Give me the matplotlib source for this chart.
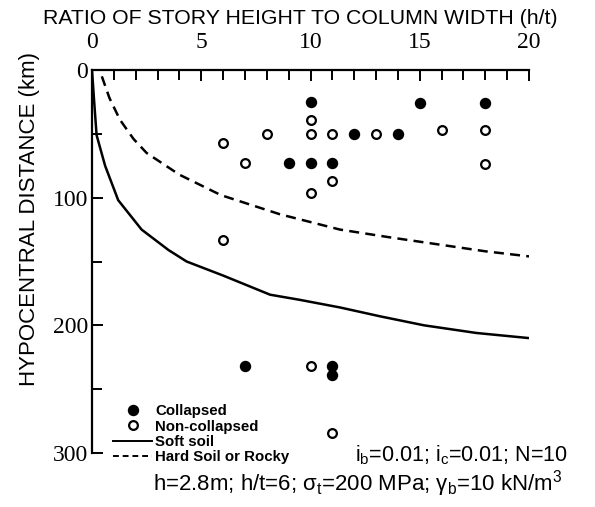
import matplotlib
matplotlib.use("Agg")
import matplotlib.pyplot as plt
from matplotlib.lines import Line2D
from matplotlib.ticker import MultipleLocator

# ---- data ----
collapsed_x = [10, 15, 18, 12, 14, 9, 10, 11, 7, 11, 11]
collapsed_y = [25, 26, 26, 50, 50, 73, 73, 73, 232, 232, 239]
noncollapsed_x = [10, 10, 11, 13, 8, 16, 18, 6, 7, 18, 11, 10, 6, 10, 11]
noncollapsed_y = [39, 50, 50, 50, 50, 47, 47, 57, 73, 74, 87, 96, 133, 232, 284]
soft_x = [0, 0.1, 0.21, 0.6, 1.2, 2.27, 3.5, 4.33, 6.0, 8.15, 9.5, 11.35, 13.2, 15.2, 17.6, 20]
soft_y = [0, 25, 51, 75, 102, 125, 141, 150, 161, 176, 180, 186, 193, 200, 206, 210]
hard_x = [0.45, 0.8, 1.28, 1.9, 2.5, 4.0, 5.9, 8.6, 11.35, 13.6, 16, 18, 20]
hard_y = [5, 22, 39, 54, 65, 82, 98, 113, 125, 131, 137, 142, 146]
xticks = [0, 5, 10, 15, 20]
yticks = [0, 100, 200, 300]

plt.rcParams['mathtext.fontset'] = 'custom'
plt.rcParams['mathtext.rm'] = 'Liberation Sans'
plt.rcParams['mathtext.it'] = 'Liberation Sans:italic'

fig = plt.figure(figsize=(5.95, 5.07), dpi=100)
ax = fig.add_axes([92/595, 1-453/507, 437/595, 383/507])

ax.plot(soft_x, soft_y, color='black', lw=1.8, solid_capstyle='butt')
ax.plot(hard_x, hard_y, color='black', lw=1.8, linestyle=(0, (4, 2.5)))
ax.plot(collapsed_x, collapsed_y, 'o', color='black', ms=7.2, ls='none')
ax.plot(noncollapsed_x, noncollapsed_y, 'o', mfc='white', mec='black', mew=1.6, ms=6.3, ls='none')

ax.set_xlim(0, 20)
ax.set_ylim(300, 0)
ax.xaxis.tick_top()
ax.set_xticks(xticks)
ax.set_yticks(yticks)
ax.xaxis.set_minor_locator(MultipleLocator(1))
ax.yaxis.set_minor_locator(MultipleLocator(50))
for s in ['right', 'bottom']:
    ax.spines[s].set_visible(False)
for s in ['left', 'top']:
    ax.spines[s].set_linewidth(1.6)
ax.tick_params(which='both', direction='in', width=1.4, top=True, bottom=False, left=True, right=False)
ax.tick_params(which='major', length=8, labelsize=17)
ax.tick_params(which='minor', length=7)
ax.tick_params(axis='x', which='major', pad=12)
ax.tick_params(axis='y', which='major', pad=3)
for lab in ax.get_xticklabels() + ax.get_yticklabels():
    lab.set_family('Liberation Serif')

fig.text(300/595, 1-19/507, 'RATIO OF STORY HEIGHT TO COLUMN WIDTH (h/t)', ha='center', va='center',
         family='Liberation Sans', fontsize=15.3)
fig.text(30/595, 1-219/507, 'HYPOCENTRAL DISTANCE (km)', ha='center', va='center', rotation=90,
         family='Liberation Sans', fontsize=16)

handles = [
    Line2D([], [], marker='o', color='black', ls='none', ms=7.2),
    Line2D([], [], marker='o', mfc='white', mec='black', mew=1.6, ls='none', ms=6.3),
    Line2D([], [], color='black', lw=1.4),
    Line2D([], [], color='black', lw=1.4, linestyle=(0, (3, 2))),
]
labels = ['Collapsed', 'Non-collapsed', 'Soft soil', 'Hard Soil or Rocky']
leg = fig.legend(handles, labels, loc='lower left', bbox_to_anchor=(113/595, 1-464/507),
                 frameon=False, prop={'family': 'Liberation Sans', 'weight': 'bold', 'size': 10.8},
                 handlelength=2.6, handletextpad=0.2, labelspacing=0.08, borderpad=0, borderaxespad=0)

fig.text(462/595, 1-455/507, 'i$_\\mathrm{b}$=0.01; i$_\\mathrm{c}$=0.01; N=10', ha='center', va='center',
         family='Liberation Sans', fontsize=15.5)
fig.text(358/595, 1-484/507, 'h=2.8m; h/t=6; σ$_\\mathrm{t}$=200 MPa; γ$_\\mathrm{b}$=10 kN/m$^\\mathrm{3}$',
         ha='center', va='center', family='Liberation Sans', fontsize=16)

fig.savefig('out.png', dpi=100)
